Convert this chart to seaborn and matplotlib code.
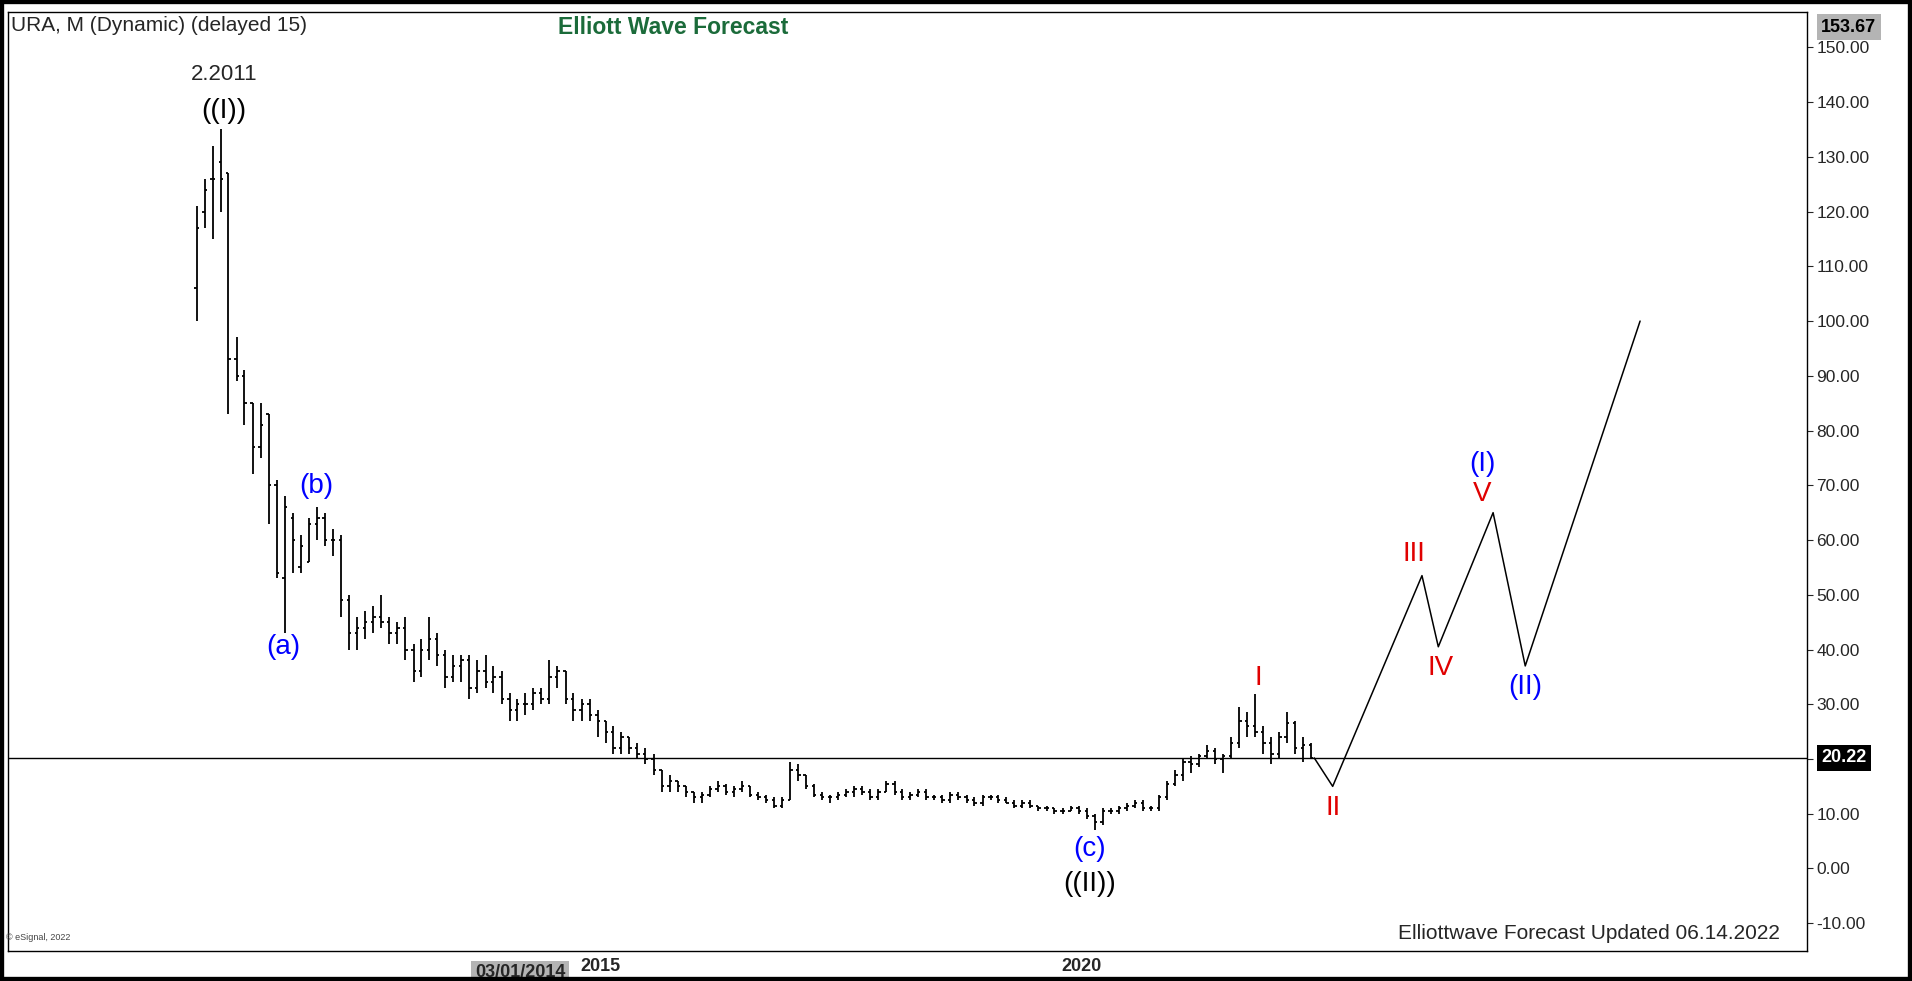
import matplotlib
matplotlib.use("Agg")
import matplotlib.pyplot as plt
import matplotlib.dates as mdates
import seaborn as sns
import pandas as pd
import numpy as np

sns.set_style("white")
plt.rcParams['font.family'] = ['Liberation Sans', 'DejaVu Sans']

start_month = "2010-11-01"
opens = [106,120,126,129,127,93,90,85,77,83,70,53,64,55,56,63,64,60,60,49,43,44,45,46,45,43,
         44,40,36,40,42,39,35,37,38,33,36,34,35,31,29,30,30,32,31,35,36,31,29,30,
         28,27,25,22,24,22,21,20,18,15,16,15,14,13,13.5,14.5,15,14,14.5,15,13.5,13,12.5,11.5,
         12.5,18,17,15,13.5,13,13,13.5,14,14.5,14,13,14,15.5,14,13,13.5,14,13,13,12.5,13.5,13,12.5,
         12,13,13,12.5,12,11.5,12,11.5,11,11,10.5,10.5,11,10.5,9.5,8.5,10.5,10.5,11,11.5,12,11,
         11,13,15.5,17,19.5,19,20.5,21.5,20,20.5,23,27,26,25,23,21,24,26.5,22,22.5]
highs = [121,126,132,135,127,97,91,85,85,83,71,68,65,61,64,66,65,62,61,50,46,47,48,50,46,45,
         46,41,42,46,43,40,39,39,39,38,39,37,36,32,31,32,33,33,38,37,36,32,31,31,
         29,27,26,25,24,23,22,21,18,17,16,15,14,14,15,16,15.5,15,16,15,14,13.5,13,13,
         19.5,19,17,15.5,14,13.5,14,14.5,15,15,14.5,14.5,16,16,14.5,14,14.5,14.5,13.5,13.5,14,14,13.5,13,
         13.5,13.5,13.5,13,12.5,12.5,12.5,11.5,11.5,11,11,11.5,11.5,11,10,11,11,11.5,12,12.5,12.5,11.5,
         13.5,16,18,20,20.5,21,22.5,22,21,24,29.5,28.5,31.8,26,24,25,28.5,27,24,23]
lows = [100,117,115,120,83,89,81,72,75,63,53,43,54,54,56,60,59,57,46,40,40,42,43,44,41,41,
        38,34,35,38,37,33,34,34,31,32,33,32,30,27,27,28,29,30,30,33,30,27,27,27,
        24,23,21,21,21,20,19,17,14,14,14,13,12,12,13,14,13.5,13,14,13,12.5,12,11,11,
        12.5,16,14.5,13,12.5,12,12.5,13,13,13.5,12.5,12.5,14,13.5,12.5,12.5,13,12.5,12.5,12,12,12.5,12,11.5,
        11.5,12.5,12,12,11,11,11,10.5,10.5,10,10,10.5,10,9,7,8,10,10,10.5,11,10.5,10.5,
        10.5,12.5,15,16,17.5,18.5,20,19,17.5,20,22,24,24,21,19,20,23,21,19.5,20]
closes = [117,124,126,126,93,90,85,77,81,70,54,66,60,59,63,64,60,60,49,43,44,45,46,45,43,44,
          40,36,40,42,39,35,37,38,33,36,34,35,31,29,30,30,32,31,35,36,31,29,30,28,
          27,25,22,24,22,21,20,18,15,16,15,14,13,13.5,14.5,15,14,14.5,15,13.5,13,12.5,11.5,12.5,
          18,17,15,13.5,13,13,13.5,14,14.5,14,13,14,15.5,14,13,13.5,14,13,13,12.5,13.5,13,12.5,12,
          13,13,12.5,12,11.5,12,11.5,11,11,10.5,10.5,11,10.5,9.5,8.5,10.5,10.5,11,11.5,12,11,11,
          13,15.5,17,19.5,19,20.5,21.5,20,20.5,23,27,26,25,23,21,24,26.5,22,22.5,20.2]
last_price = 20.22
proj_dates = ["2022-06-01","2022-08-10","2023-07-15","2023-09-15","2024-04-10","2024-08-10","2025-10-20"]
proj_values = [20.2,15,53.5,40.5,65,37,100]
yticks = list(range(-10, 151, 10))

dates = pd.date_range(start_month, periods=len(closes), freq="MS")
x = mdates.date2num(dates) - 12
tw = 9

fig = plt.figure(figsize=(19.12, 9.81), dpi=100)
fig.patch.set_facecolor("white")
ax = fig.add_axes([0.004, 0.031, 0.941, 0.957])
ax.vlines(x, lows, highs, color="black", lw=1.3)
ax.hlines(opens, x - tw, x, color="black", lw=1.3)
ax.hlines(closes, x, x + tw, color="black", lw=1.3)

pdf = pd.DataFrame({"date": mdates.date2num(pd.to_datetime(proj_dates)), "value": proj_values})
sns.lineplot(data=pdf, x="date", y="value", ax=ax, color="black", lw=1.1, sort=False, estimator=None)
ax.axhline(last_price, color="black", lw=1)

ax.set_xlim(mdates.date2num(pd.Timestamp("2008-11-01")), mdates.date2num(pd.Timestamp("2027-07-15")))
ax.set_ylim(-15, 156.5)
ax.yaxis.tick_right()
ax.set_yticks(yticks)
ax.set_yticklabels([f"{v:.2f}" if v != 20 else "" for v in yticks], fontsize=12.5)
ax.tick_params(axis="y", length=4, pad=3)
ax.set_xticks([mdates.date2num(pd.Timestamp(d)) for d in ["2015-01-01", "2020-01-01"]])
ax.set_xticklabels(["2015", "2020"], fontsize=13, fontweight="bold")
ax.tick_params(axis="x", length=0, pad=5)
ax.set_xlabel(""); ax.set_ylabel("")
for s in ax.spines.values():
    s.set_color("black"); s.set_linewidth(1)

def dn(d):
    return mdates.date2num(pd.Timestamp(d))

ax.text(dn("2014-03-01"), -17.5, "03/01/2014", fontsize=13, fontweight="bold", ha="center", va="top",
        bbox=dict(boxstyle="square,pad=0.2", fc="#b4b4b4", ec="none"))
ax.text(1.008, (last_price + 15) / 171.5, "20.22", transform=ax.transAxes, fontsize=13, fontweight="bold",
        color="white", va="center", ha="left", bbox=dict(boxstyle="square,pad=0.25", fc="black", ec="none"))
ax.text(1.008, (153.67 + 15) / 171.5, "153.67", transform=ax.transAxes, fontsize=13, fontweight="bold",
        color="black", va="center", ha="left", bbox=dict(boxstyle="square,pad=0.25", fc="#b4b4b4", ec="none"))

fig.text(0.006, 0.974, "URA, M (Dynamic) (delayed 15)", fontsize=15, va="center")
fig.text(0.292, 0.972, "Elliott Wave Forecast", fontsize=16.5, fontweight="bold", color="#1b6b3a", va="center")
fig.text(0.003, 0.042, "© eSignal, 2022", fontsize=6.5, color="#444444")
ax.text(0.985, 0.008, "Elliottwave Forecast Updated 06.14.2022", transform=ax.transAxes, fontsize=15,
        ha="right", va="bottom")

blue, red = "#0000ff", "#e00000"
lab = dict(fontsize=20, ha="center")
ax.text(dn("2011-02-01"), 144, "2.2011", fontsize=16, ha="center")
ax.text(dn("2011-02-01"), 136, "((I))", va="bottom", color="black", **lab)
ax.text(dn("2011-09-15"), 38, "(a)", va="bottom", color=blue, **lab)
ax.text(dn("2012-01-15"), 67.5, "(b)", va="bottom", color=blue, **lab)
ax.text(dn("2020-02-01"), 6, "(c)", va="top", color=blue, **lab)
ax.text(dn("2020-02-01"), -0.5, "((II))", va="top", color="black", **lab)
ax.text(dn("2021-11-01"), 32.5, "I", va="bottom", color=red, **lab)
ax.text(dn("2022-08-10"), 13.5, "II", va="top", color=red, **lab)
ax.text(dn("2023-06-15"), 55, "III", va="bottom", color=red, **lab)
ax.text(dn("2023-09-25"), 39, "IV", va="top", color=red, **lab)
ax.text(dn("2024-03-01"), 66, "V", va="bottom", color=red, **lab)
ax.text(dn("2024-03-01"), 71.5, "(I)", va="bottom", color=blue, **lab)
ax.text(dn("2024-08-10"), 35.5, "(II)", va="top", color=blue, **lab)

border = plt.Rectangle((0, 0), 1, 1, transform=fig.transFigure, fill=False, ec="black", lw=6)
fig.patches.append(border)
fig.savefig("out.png", dpi=100)
